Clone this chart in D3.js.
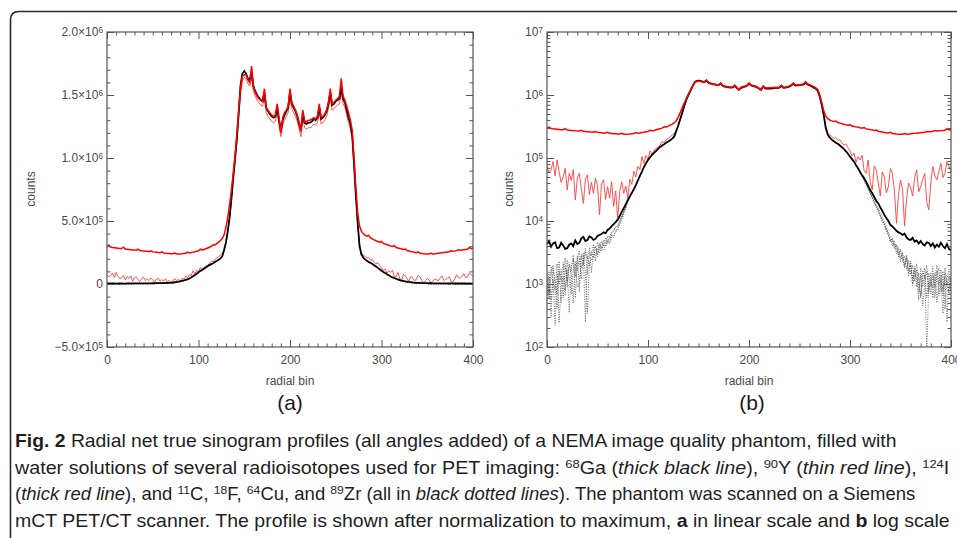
<!DOCTYPE html>
<html>
<head>
<meta charset="utf-8">
<script src="https://cdn.jsdelivr.net/npm/d3@7"></script>
<style>
  html, body { margin: 0; padding: 0; background: #fff; }
  svg { display: block; }
</style>
</head>
<body>
<div id="chart"></div>
<script>
// ================================================
// 1. DATA (counts per radial bin, sampled every 2 bins)
// ================================================
const bins = d3.range(0, 401, 2);

// 68Ga - thick black line
const ga68 = [
  4.3e3, 4.8e3, 3.9e3, 4.4e3, 4.6e3, 3.7e3, 3.8e3, 4.5e3, 4.1e3, 3.6e3,
  3.7e3, 4.2e3, 4.4e3, 4.0e3, 4.9e3, 4.3e3, 4.5e3, 5.3e3, 5.6e3, 4.8e3,
  5.0e3, 5.7e3, 5.5e3, 5.0e3, 5.2e3, 5.8e3, 6.0e3, 6.2e3, 6.6e3, 6.4e3,
  7.2e3, 7.6e3, 8.3e3, 8.9e3, 9.6e3, 1.05e4, 1.2e4, 1.4e4, 1.6e4, 1.85e4,
  2.15e4, 2.45e4, 2.8e4, 3.2e4, 3.7e4, 4.4e4, 5.2e4, 6.1e4, 7.2e4, 8.2e4,
  9.3e4, 1.03e5, 1.12e5, 1.21e5, 1.3e5, 1.4e5, 1.5e5, 1.58e5, 1.65e5, 1.74e5,
  1.82e5, 1.92e5, 2.03e5, 2.2e5, 2.7e5, 3.3e5, 4.2e5, 5.3e5, 6.8e5, 8.5e5,
  1.0e6, 1.16e6, 1.37e6, 1.58e6, 1.67e6, 1.69e6, 1.67e6, 1.63e6, 1.62e6, 1.68e6,
  1.57e6, 1.53e6, 1.5e6, 1.48e6, 1.46e6, 1.45e6, 1.52e6, 1.4e6, 1.37e6, 1.35e6,
  1.33e6, 1.32e6, 1.33e6, 1.4e6, 1.3e6, 1.22e6, 1.3e6, 1.34e6, 1.37e6, 1.4e6,
  1.52e6, 1.43e6, 1.4e6, 1.37e6, 1.33e6, 1.27e6, 1.22e6, 1.36e6, 1.28e6, 1.27e6,
  1.28e6, 1.28e6, 1.29e6, 1.31e6, 1.3e6, 1.32e6, 1.4e6, 1.31e6, 1.32e6, 1.34e6,
  1.37e6, 1.43e6, 1.52e6, 1.42e6, 1.43e6, 1.45e6, 1.46e6, 1.47e6, 1.56e6, 1.47e6,
  1.44e6, 1.38e6, 1.32e6, 1.27e6, 1.18e6, 9.5e5, 7.0e5, 4.8e5, 3.0e5, 2.35e5,
  2.1e5, 1.95e5, 1.85e5, 1.75e5, 1.68e5, 1.58e5, 1.48e5, 1.38e5, 1.28e5, 1.17e5,
  1.05e5, 9.6e4, 8.7e4, 7.7e4, 6.9e4, 6.0e4, 5.3e4, 4.8e4, 4.2e4, 3.6e4,
  3.1e4, 2.75e4, 2.4e4, 2.1e4, 1.9e4, 1.65e4, 1.45e4, 1.25e4, 1.12e4, 1.0e4,
  8.7e3, 8.2e3, 7.6e3, 7.0e3, 6.6e3, 6.4e3, 6.0e3, 6.3e3, 5.5e3, 5.1e3,
  5.0e3, 5.4e3, 4.7e3, 4.9e3, 4.4e3, 4.8e3, 4.3e3, 4.1e3, 4.6e3, 4.5e3,
  4.0e3, 4.4e3, 3.8e3, 4.2e3, 3.9e3, 4.5e3, 4.0e3, 3.7e3, 4.3e3, 3.6e3,
  3.4e3
];

// 90Y - thin red line
const y90 = [
  7.3e4, 5.8e4, 6.5e4, 8.8e4, 5.2e4, 9.3e4, 6.0e4, 4.1e4, 5.0e4, 6.9e4,
  3.1e4, 5.7e4, 4.4e4, 6.5e4, 2.15e4, 4.8e4, 5.7e4, 3.3e4, 1.9e4, 4.6e4,
  5.4e4, 2.6e4, 4.1e4, 2.75e4, 4.8e4, 3.6e4, 1.26e4, 3.9e4, 4.5e4, 2.2e4,
  3.5e4, 2.3e4, 4.2e4, 1.7e4, 3.0e4, 1.1e4, 2.9e4, 4.2e4, 2.75e4, 3.6e4,
  2.3e4, 4.6e4, 3.8e4, 6.2e4, 5.0e4, 7.4e4, 6.5e4, 1.05e5, 8.2e4, 1.1e5,
  9.3e4, 1.3e5, 1.14e5, 1.34e5, 1.42e5, 1.5e5, 1.6e5, 1.82e5, 1.75e5, 1.95e5,
  2.05e5, 2.18e5, 2.3e5, 2.45e5, 2.7e5, 3.2e5, 4.1e5, 5.2e5, 6.6e5, 8.2e5,
  9.7e5, 1.14e6, 1.33e6, 1.51e6, 1.61e6, 1.64e6, 1.63e6, 1.59e6, 1.57e6, 1.64e6,
  1.53e6, 1.49e6, 1.46e6, 1.44e6, 1.42e6, 1.41e6, 1.48e6, 1.36e6, 1.33e6, 1.31e6,
  1.29e6, 1.28e6, 1.29e6, 1.36e6, 1.26e6, 1.17e6, 1.26e6, 1.3e6, 1.33e6, 1.36e6,
  1.48e6, 1.39e6, 1.36e6, 1.33e6, 1.29e6, 1.23e6, 1.17e6, 1.32e6, 1.24e6, 1.23e6,
  1.24e6, 1.24e6, 1.25e6, 1.27e6, 1.26e6, 1.28e6, 1.36e6, 1.27e6, 1.28e6, 1.3e6,
  1.33e6, 1.39e6, 1.48e6, 1.38e6, 1.39e6, 1.41e6, 1.42e6, 1.43e6, 1.52e6, 1.43e6,
  1.4e6, 1.34e6, 1.28e6, 1.23e6, 1.15e6, 9.3e5, 6.9e5, 4.8e5, 3.2e5, 2.5e5,
  2.3e5, 2.2e5, 2.05e5, 2.1e5, 1.9e5, 1.95e5, 1.75e5, 1.6e5, 1.68e5, 1.45e5,
  1.3e5, 1.08e5, 1.2e5, 8.6e4, 1.05e5, 9.3e4, 1.1e5, 6.2e4, 5.7e4, 9.3e4,
  4.2e4, 3.1e4, 7.5e4, 6.5e4, 4.0e4, 2.5e4, 6.0e4, 5.0e4, 2.8e4, 3.5e4,
  6.8e4, 5.7e4, 3.0e4, 9.2e3, 2.6e4, 4.5e4, 3.2e4, 8.3e3, 2.2e4, 4.0e4,
  3.4e4, 2.5e4, 4.8e4, 6.5e4, 2.9e4, 3.5e4, 4.6e4, 5.7e4, 2.0e4, 1.5e4,
  4.0e4, 7.3e4, 5.2e4, 4.5e4, 6.1e4, 8.2e4, 4.9e4, 5.7e4, 8.8e4, 7.3e4,
  6.0e4
];

// 124I - thick red line
const i124 = [
  2.96e5, 3.08e5, 2.94e5, 2.9e5, 2.88e5, 2.86e5, 2.84e5, 2.82e5, 2.81e5, 2.92e5,
  2.78e5, 2.76e5, 2.74e5, 2.72e5, 2.7e5, 2.69e5, 2.68e5, 2.76e5, 2.65e5, 2.63e5,
  2.62e5, 2.6e5, 2.59e5, 2.57e5, 2.64e5, 2.55e5, 2.53e5, 2.52e5, 2.5e5, 2.49e5,
  2.56e5, 2.46e5, 2.45e5, 2.43e5, 2.42e5, 2.41e5, 2.4e5, 2.46e5, 2.38e5, 2.38e5,
  2.39e5, 2.4e5, 2.42e5, 2.44e5, 2.53e5, 2.47e5, 2.5e5, 2.53e5, 2.56e5, 2.6e5,
  2.64e5, 2.76e5, 2.7e5, 2.74e5, 2.8e5, 2.86e5, 2.92e5, 2.98e5, 3.12e5, 3.1e5,
  3.2e5, 3.32e5, 3.45e5, 3.6e5, 3.9e5, 4.5e5, 5.3e5, 6.3e5, 7.5e5, 8.8e5,
  1.03e6, 1.2e6, 1.38e6, 1.57e6, 1.65e6, 1.66e6, 1.66e6, 1.62e6, 1.6e6, 1.73e6,
  1.57e6, 1.52e6, 1.49e6, 1.47e6, 1.46e6, 1.45e6, 1.55e6, 1.4e6, 1.38e6, 1.36e6,
  1.34e6, 1.33e6, 1.34e6, 1.43e6, 1.32e6, 1.2e6, 1.32e6, 1.36e6, 1.38e6, 1.41e6,
  1.55e6, 1.44e6, 1.41e6, 1.38e6, 1.34e6, 1.28e6, 1.21e6, 1.38e6, 1.29e6, 1.29e6,
  1.3e6, 1.3e6, 1.31e6, 1.32e6, 1.31e6, 1.33e6, 1.43e6, 1.32e6, 1.33e6, 1.35e6,
  1.38e6, 1.44e6, 1.55e6, 1.43e6, 1.44e6, 1.46e6, 1.47e6, 1.49e6, 1.63e6, 1.49e6,
  1.46e6, 1.41e6, 1.36e6, 1.3e6, 1.22e6, 1.0e6, 7.6e5, 5.6e5, 4.6e5, 4.2e5,
  4.0e5, 3.88e5, 3.8e5, 3.86e5, 3.66e5, 3.58e5, 3.5e5, 3.43e5, 3.37e5, 3.32e5,
  3.38e5, 3.22e5, 3.17e5, 3.12e5, 3.07e5, 3.02e5, 2.98e5, 3.04e5, 2.9e5, 2.86e5,
  2.82e5, 2.78e5, 2.74e5, 2.78e5, 2.66e5, 2.62e5, 2.58e5, 2.55e5, 2.52e5, 2.49e5,
  2.55e5, 2.44e5, 2.42e5, 2.4e5, 2.39e5, 2.38e5, 2.38e5, 2.44e5, 2.38e5, 2.39e5,
  2.42e5, 2.44e5, 2.46e5, 2.48e5, 2.5e5, 2.52e5, 2.54e5, 2.56e5, 2.64e5, 2.6e5,
  2.62e5, 2.65e5, 2.72e5, 2.68e5, 2.7e5, 2.72e5, 2.74e5, 2.76e5, 2.9e5, 2.8e5,
  2.86e5
];

// 11C, 18F, 64Cu, 89Zr - black dotted lines (they follow 68Ga in the middle)
const dottedLeftBins = d3.range(0, 90, 2);
const dottedRightBins = d3.range(306, 401, 2);

const c11Left = [
  1.5e3, 7.1e2, 1.9e3, 1.1e3, 8.0e2, 2.1e3, 2.4e2, 9.5e2, 1.3e3, 6.5e2,
  2.4e3, 1.2e3, 7.0e2, 1.8e3, 2.1e3, 9.0e2, 1.0e3, 2.6e3, 3.1e3, 1.5e3,
  3.4e2, 2.2e3, 2.4e3, 3.0e3, 2.9e3, 3.6e3, 3.1e3, 3.9e3, 3.5e3, 4.2e3,
  4.7e3, 4.3e3, 5.6e3, 6.0e3, 6.6e3, 7.6e3, 8.8e3, 1.1e4, 1.35e4, 1.7e4,
  2.1e4, 2.45e4, 2.8e4, 3.2e4, 3.7e4
];
const c11Right = [
  7.7e4, 6.9e4, 6.0e4, 5.2e4, 4.6e4, 4.0e4, 3.4e4,
  2.9e4, 2.5e4, 2.2e4, 1.8e4, 1.6e4, 1.35e4, 1.15e4, 9.5e3, 8.3e3, 6.4e3,
  5.6e3, 4.4e3, 4.9e3, 3.3e3, 3.9e3, 2.6e3, 3.0e3, 2.0e3, 2.7e3, 1.6e3,
  2.2e3, 1.2e3, 1.9e3, 9.0e2, 1.5e3, 6.0e2, 1.3e3, 1.8e3, 8.0e1, 1.1e3,
  7.0e2, 1.4e3, 9.0e2, 1.6e3, 6.5e2, 1.2e3, 3.4e2, 1.5e3, 1.0e3, 1.3e3,
  8.0e2
];
const f18Left = [
  1.2e3, 6.0e2, 1.4e3, 2.0e3, 9.0e2, 4.0e2, 1.6e3, 1.1e3, 2.2e3, 8.0e2,
  1.7e3, 3.5e2, 1.9e3, 2.5e3, 1.3e3, 2.8e3, 7.5e2, 3.0e3, 2.0e3, 3.3e3,
  2.5e3, 3.8e3, 1.5e3, 3.4e3, 4.0e3, 3.0e3, 4.5e3, 3.7e3, 5.0e3, 4.4e3,
  5.8e3, 5.2e3, 6.7e3, 7.2e3, 7.9e3, 8.5e3, 1.0e4, 1.2e4, 1.45e4, 1.75e4,
  2.1e4, 2.45e4, 2.8e4, 3.2e4, 3.7e4
];
const f18Right = [
  7.6e4, 6.8e4, 6.0e4, 5.2e4, 4.5e4, 3.9e4, 3.4e4,
  2.9e4, 2.4e4, 2.05e4, 1.75e4, 1.5e4, 1.25e4, 1.05e4, 8.8e3, 7.6e3, 6.0e3,
  5.2e3, 4.0e3, 4.5e3, 3.0e3, 3.5e3, 2.2e3, 3.2e3, 1.8e3, 2.5e3, 1.3e3,
  2.0e3, 9.5e2, 1.7e3, 1.2e3, 5.5e2, 1.8e3, 9.0e2, 1.4e3, 6.0e2, 1.5e3,
  9.0e2, 1.9e3, 6.0e2, 1.3e3, 1.8e3, 7.5e2, 1.6e3, 4.0e2, 1.2e3, 1.7e3,
  1.1e3
];
const cu64Left = [
  6.5e2, 1.3e3, 3.0e2, 1.8e3, 1.1e3, 7.0e2, 2.3e3, 5.0e2, 1.5e3, 2.6e3,
  9.0e2, 2.2e3, 1.6e3, 2.9e3, 6.0e2, 2.4e3, 3.4e3, 1.8e3, 2.2e3, 3.7e3,
  1.4e3, 3.2e3, 2.8e3, 4.3e3, 2.3e3, 4.6e3, 3.5e3, 4.8e3, 4.0e3, 5.5e3,
  4.4e3, 5.9e3, 6.3e3, 6.9e3, 8.0e3, 8.1e3, 9.9e3, 1.15e4, 1.4e4, 1.65e4,
  2.05e4, 2.4e4, 2.8e4, 3.2e4, 3.7e4
];
const cu64Right = [
  7.4e4, 6.6e4, 5.8e4, 5.0e4, 4.3e4, 3.7e4, 3.2e4,
  2.7e4, 2.3e4, 2.0e4, 1.65e4, 1.45e4, 1.2e4, 1.0e4, 9.0e3, 7.2e3, 6.3e3,
  4.6e3, 5.4e3, 3.8e3, 4.3e3, 2.7e3, 3.6e3, 2.5e3, 1.9e3, 2.9e3, 1.5e3,
  2.3e3, 1.0e3, 1.5e3, 2.1e3, 1.0e3, 6.5e2, 1.6e3, 1.2e3, 2.0e3, 8.0e2,
  1.5e3, 6.0e2, 1.2e3, 2.0e3, 9.5e2, 1.4e3, 6.5e2, 1.8e3, 1.1e3, 7.0e2,
  1.3e3
];
const zr89Left = [
  9.0e2, 1.6e3, 5.5e2, 1.2e3, 2.2e2, 1.4e3, 1.0e3, 1.7e3, 6.0e2, 1.9e3,
  1.1e3, 2.0e3, 1.4e3, 5.0e2, 2.3e3, 1.6e3, 2.6e3, 1.2e3, 2.9e3, 2.5e2,
  2.8e3, 1.9e3, 3.3e3, 2.6e3, 3.8e3, 2.7e3, 4.1e3, 3.3e3, 4.4e3, 3.9e3,
  5.1e3, 4.6e3, 6.1e3, 5.4e3, 7.3e3, 7.0e3, 9.4e3, 1.02e4, 1.3e4, 1.55e4,
  2.0e4, 2.4e4, 2.75e4, 3.2e4, 3.7e4
];
const zr89Right = [
  7.5e4, 6.7e4, 5.9e4, 5.1e4, 4.4e4, 3.8e4, 3.3e4,
  2.8e4, 2.3e4, 1.9e4, 1.7e4, 1.4e4, 1.2e4, 9.8e3, 8.6e3, 7.0e3, 5.9e3,
  4.8e3, 5.2e3, 3.6e3, 4.1e3, 2.9e3, 3.4e3, 2.3e3, 2.8e3, 1.7e3, 2.4e3,
  1.4e3, 2.0e3, 1.1e3, 1.7e3, 7.5e2, 1.4e3, 4.5e2, 1.0e3, 1.6e3, 7.0e2,
  1.2e3, 8.5e2, 1.5e3, 5.0e2, 1.1e3, 1.7e3, 8.0e2, 1.3e3, 2.5e2, 1.4e3,
  1.0e3
];

// tick values
const xMajorTicks = [0, 100, 200, 300, 400];
const linMajorTicks = [-5e5, 0, 5e5, 1e6, 1.5e6, 2e6];
const logMajorTicks = [1e2, 1e3, 1e4, 1e5, 1e6, 1e7];

// caption: [style, text]   b = bold, i = italic, s = superscript
const captionLines = [
  [["b", "Fig. 2"], ["", " Radial net true sinogram profiles (all angles added) of a NEMA image quality phantom, filled with"]],
  [["", "water solutions of several radioisotopes used for PET imaging: "], ["s", "68"], ["", "Ga ("], ["i", "thick black line"],
   ["", "), "], ["s", "90"], ["", "Y ("], ["i", "thin red line"], ["", "), "], ["s", "124"], ["", "I"]],
  [["", "("], ["i", "thick red line"], ["", "), and "], ["s", "11"], ["", "C, "], ["s", "18"], ["", "F, "], ["s", "64"],
   ["", "Cu, and "], ["s", "89"], ["", "Zr (all in "], ["i", "black dotted lines"], ["", "). The phantom was scanned on a Siemens"]],
  [["", "mCT PET/CT scanner. The profile is shown after normalization to maximum, "], ["b", "a"], ["", " in linear scale and "],
   ["b", "b"], ["", " log scale"]]
];

(function () {
  const W = 957, H = 538;
  const tickFont = "'Liberation Sans', Arial, sans-serif";
  const axisColor = "#555";

  const svg = d3.select("#chart").append("svg")
    .attr("width", W).attr("height", H);

  // outer frame with rounded corner (runs off the right and bottom)
  svg.append("path")
    .attr("d", `M10.5,${H + 5} L10.5,20 Q10.5,11.5 19,11.5 L${W + 5},11.5`)
    .attr("fill", "none")
    .attr("stroke", "#2a2a2a")
    .attr("stroke-width", 1.6);

  const zip = (xs, ys) => xs.map((b, i) => [b, ys[i]]);

  function sciLabel(sel, d) {
    sel.text(null);
    if (d === 0) { sel.text("0"); return; }
    const e = Math.floor(Math.log10(Math.abs(d)) + 1e-9);
    const m = (Math.abs(d) / Math.pow(10, e)).toFixed(1);
    sel.append("tspan").text((d < 0 ? "\u2212" : "") + m + "\u00d710");
    sel.append("tspan").attr("dy", "-0.45em").attr("font-size", "0.68em").text(e);
  }

  function powLabel(sel, d) {
    sel.text(null);
    const e = Math.round(Math.log10(d));
    sel.append("tspan").text("10");
    sel.append("tspan").attr("dy", "-0.45em").attr("font-size", "0.68em").text(e);
  }

  function styleAxis(g) {
    g.select(".domain").remove();
    g.selectAll(".tick line").attr("stroke", axisColor).attr("stroke-width", 1);
    g.selectAll(".tick text")
      .attr("fill", "#4a4a4a")
      .style("font-family", tickFont)
      .style("font-size", "12px");
  }

  function drawPanel(p) {
    const x = d3.scaleLinear().domain([0, 400]).range([p.left, p.right]);
    const y = p.log
      ? d3.scaleLog().domain([1e2, 1e7]).range([p.bottom, p.top])
      : d3.scaleLinear().domain([-5e5, 2e6]).range([p.bottom, p.top]);

    const clipId = "clip-" + p.id;
    svg.append("clipPath").attr("id", clipId)
      .append("rect")
      .attr("x", p.left).attr("y", p.top)
      .attr("width", p.right - p.left).attr("height", p.bottom - p.top);

    const line = d3.line().x(d => x(d[0])).y(d => y(d[1]));
    const plot = svg.append("g").attr("clip-path", `url(#${clipId})`);

    // dotted isotopes
    [[dottedLeftBins, c11Left], [dottedRightBins, c11Right],
     [dottedLeftBins, f18Left], [dottedRightBins, f18Right],
     [dottedLeftBins, cu64Left], [dottedRightBins, cu64Right],
     [dottedLeftBins, zr89Left], [dottedRightBins, zr89Right]].forEach(([bx, vals]) => {
      plot.append("path")
        .attr("d", line(zip(bx, vals)))
        .attr("fill", "none")
        .attr("stroke", "#4a4a4a")
        .attr("stroke-width", 0.8)
        .attr("stroke-dasharray", "1,1.4");
    });

    plot.append("path")
      .attr("d", line(zip(bins, y90)))
      .attr("fill", "none").attr("stroke", "#ff4040").attr("stroke-width", 0.9);

    plot.append("path")
      .attr("d", line(zip(bins, ga68)))
      .attr("fill", "none").attr("stroke", "#000").attr("stroke-width", 1.8);

    plot.append("path")
      .attr("d", line(zip(bins, i124)))
      .attr("fill", "none").attr("stroke", "#ff0000").attr("stroke-width", 1.5);

    // frame
    svg.append("rect")
      .attr("x", p.left).attr("y", p.top)
      .attr("width", p.right - p.left).attr("height", p.bottom - p.top)
      .attr("fill", "none").attr("stroke", axisColor).attr("stroke-width", 1.2);

    // x axes (bottom with labels, top mirrored)
    const xMinor = d3.range(0, 401, 10).filter(v => v % 100 !== 0);
    svg.append("g").attr("transform", `translate(0,${p.bottom})`)
      .call(d3.axisBottom(x).tickValues(xMajorTicks).tickSize(-7).tickPadding(8).tickFormat(d3.format("d")))
      .call(styleAxis);
    svg.append("g").attr("transform", `translate(0,${p.bottom})`)
      .call(d3.axisBottom(x).tickValues(xMinor).tickSize(-3.5).tickFormat(""))
      .call(styleAxis);
    svg.append("g").attr("transform", `translate(0,${p.top})`)
      .call(d3.axisTop(x).tickValues(xMajorTicks).tickSize(-7).tickFormat(""))
      .call(styleAxis);
    svg.append("g").attr("transform", `translate(0,${p.top})`)
      .call(d3.axisTop(x).tickValues(xMinor).tickSize(-3.5).tickFormat(""))
      .call(styleAxis);

    // y axes
    const yMajor = p.log ? logMajorTicks : linMajorTicks;
    const yMinor = p.log
      ? d3.range(2, 7).flatMap(e => d3.range(2, 10).map(k => k * Math.pow(10, e)))
      : d3.range(-5e5, 2e6 + 1, 1e5).filter(v => Math.round(v / 1e5) % 5 !== 0);

    const yLeft = svg.append("g").attr("transform", `translate(${p.left},0)`)
      .call(d3.axisLeft(y).tickValues(yMajor).tickSize(-7).tickPadding(4))
      .call(styleAxis);
    yLeft.selectAll(".tick text").each(function (d) {
      if (p.log) powLabel(d3.select(this), d); else sciLabel(d3.select(this), d);
    });
    svg.append("g").attr("transform", `translate(${p.left},0)`)
      .call(d3.axisLeft(y).tickValues(yMinor).tickSize(-3.5).tickFormat(""))
      .call(styleAxis);
    svg.append("g").attr("transform", `translate(${p.right},0)`)
      .call(d3.axisRight(y).tickValues(yMajor).tickSize(-7).tickFormat(""))
      .call(styleAxis);
    svg.append("g").attr("transform", `translate(${p.right},0)`)
      .call(d3.axisRight(y).tickValues(yMinor).tickSize(-3.5).tickFormat(""))
      .call(styleAxis);

    // axis titles
    svg.append("text")
      .attr("transform", `translate(${p.yTitleX},189) rotate(-90)`)
      .attr("text-anchor", "middle")
      .attr("dy", "0.35em")
      .style("font-family", tickFont).style("font-size", "12px")
      .attr("fill", "#4a4a4a")
      .text("counts");

    svg.append("text")
      .attr("x", (p.left + p.right) / 2).attr("y", 385)
      .attr("text-anchor", "middle")
      .style("font-family", tickFont).style("font-size", "12px")
      .attr("fill", "#4a4a4a")
      .text("radial bin");

    svg.append("text")
      .attr("x", p.tagX).attr("y", 410)
      .attr("text-anchor", "middle")
      .style("font-family", tickFont).style("font-size", "21px")
      .attr("fill", "#1a1a1a")
      .text(p.tag);
  }

  drawPanel({ id: "a", log: false, left: 107, right: 473, top: 32, bottom: 347, yTitleX: 31, tag: "(a)", tagX: 290 });
  drawPanel({ id: "b", log: true, left: 547, right: 951, top: 32, bottom: 347, yTitleX: 509, tag: "(b)", tagX: 752 });

  // ================================================
  // CAPTION
  // ================================================
  const capBaselines = [447, 474, 500, 527];
  const capWidths = [882, 935, 901, 935];
  captionLines.forEach((segs, li) => {
    const t = svg.append("text")
      .attr("x", 0).attr("y", 0)
      .style("font-family", "'Liberation Sans Narrow', 'Liberation Sans', sans-serif")
      .style("font-size", "17.5px")
      .attr("fill", "#1e1e1e");
    let raised = false;
    segs.forEach(([st, txt]) => {
      const ts = t.append("tspan").text(txt);
      if (st === "s") {
        ts.attr("font-size", "11.5px").attr("dy", raised ? 0 : -6.5);
        raised = true;
      } else {
        if (raised) { ts.attr("dy", 6.5); raised = false; }
        if (st === "b") ts.attr("font-weight", "bold");
        if (st === "i") ts.attr("font-style", "italic");
      }
    });
    const w = t.node().getComputedTextLength();
    t.attr("transform", `translate(15,${capBaselines[li]}) scale(${capWidths[li] / w},1)`);
  });
})();
</script>
</body>
</html>
